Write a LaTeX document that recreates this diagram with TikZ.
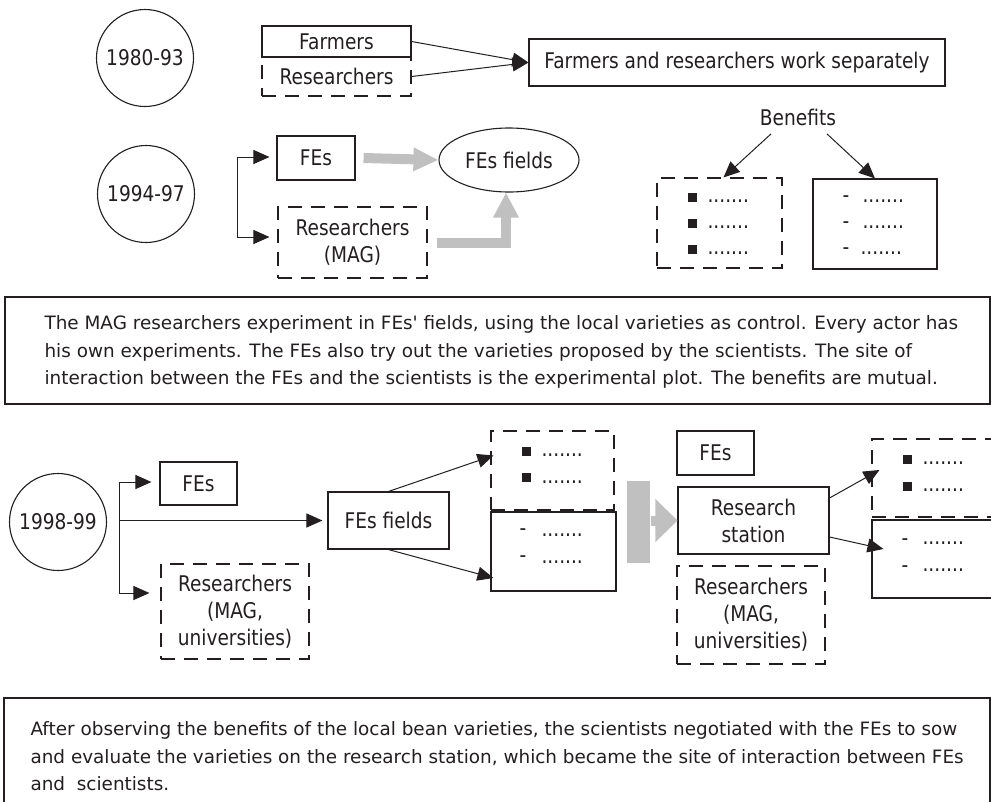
\documentclass[tikz,border=0pt]{standalone}
\usepackage{fontspec}
\setmainfont{DejaVu Sans}
\newfontfamily\labf[FakeStretch=0.86]{DejaVu Sans}
\usetikzlibrary{arrows.meta,shapes.geometric}
\definecolor{garrow}{RGB}{192,192,192}
\definecolor{ink}{RGB}{35,31,32}
\begin{document}
\begin{tikzpicture}[x=1pt,y=-1pt, line width=1.1pt,
  every node/.style={inner sep=0pt, text=ink},
  sz/.style 2 args={minimum width=#1pt, minimum height=#2pt},
  lab/.style={font=\labf\fontsize{21.6}{27}\selectfont, align=center},
  sbox/.style={draw=ink, rectangle, lab},
  dbox/.style={draw=ink, rectangle, lab, dash pattern=on 14pt off 9pt},
  yr/.style={draw=ink, circle, minimum size=97pt, lab},
  arr/.style={draw=ink, line width=1pt, -{Triangle[length=16pt,width=14pt]}},
  garr/.style={draw=garrow, line width=10pt, line join=miter},
  para/.style={font=\fontsize{18.4}{27.5}\selectfont, anchor=base west},
  dots/.style={font=\labf\fontsize{21.6}{27}\selectfont, anchor=base west},
  sq/.style={fill=ink, minimum size=9pt},
  hy/.style={font=\labf\fontsize{21.6}{27}\selectfont, anchor=base}
]
\clip (0,0) rectangle (991,801);
% ---------- row 1
\node[yr] (c1) at (145,58) {1980-93};
\node[dbox, sz={149}{39}] (r1) at (336.5,76.5) {Researchers};
\node[sbox, sz={149}{31}] (f1) at (336.5,41.5) {Farmers};
\node[sbox, sz={416}{47}] (sep) at (737,62.5) {Farmers and researchers work separately};
\draw[arr] (f1.east) -- (sep.west);
\draw[arr] (r1.east) -- (sep.west);
% ---------- row 2
\node[yr] (c2) at (146,194) {1994-97};
\node[sbox, sz={78}{44}] (fe2) at (316,158) {FEs};
\node[dbox, sz={149}{71}] (r2) at (352.5,242.5) {Researchers\\(MAG)};
\node[draw=ink, ellipse, lab, minimum width=140pt, minimum height=64pt] (fl2) at (509,160) {FEs fields};
\coordinate (b2t) at (237,157);
\coordinate (b2b) at (237,237);
\draw[draw=ink, line width=1pt] (b2t) -- (b2b);
\draw[arr, shorten >=7pt] (b2t) -- (b2t -| fe2.west);
\draw[arr, shorten >=8pt] (b2b) -- (b2b -| r2.west);
\draw[garr, -{Triangle[length=25pt,width=22pt]}] ([xshift=8pt]fe2.east) -- (fl2.west);
\draw[garr, -{Triangle[length=25pt,width=24pt]}] ([xshift=9pt]r2.east) -| ([xshift=-3pt]fl2.south);
\node[lab] (ben) at (798,117) {Benefits};
\node[dbox, sz={125}{90}] (bx1) at (719.5,223) {};
\node[sbox, sz={124}{90}] (bx2) at (875,224) {};
\draw[arr] ([xshift=-27pt,yshift=-8pt]ben.south) -- ([xshift=4pt]bx1.north);
\draw[arr] ([xshift=29pt,yshift=-8pt]ben.south) -- (bx2.north);
\node[sq] (s11) at (692.5,197.5) {};
\node[sq] (s12) at (692.5,223) {};
\node[sq] (s13) at (692.5,249.5) {};
\node[dots] (d11) at (707,202) {.......};
\node[dots] (d12) at (707,228) {.......};
\node[dots] (d13) at (707,254) {.......};
\node[hy] (h11) at (846,202) {-};
\node[hy] (h12) at (846,228) {-};
\node[hy] (h13) at (846,254) {-};
\node[dots] (d14) at (862,202) {.......};
\node[dots] (d15) at (862,228) {.......};
\node[dots] (d16) at (860,254) {.......};
% ---------- paragraph 1
\node[draw=ink, sz={985}{107}] (p1box) at (497.5,350.5) {};
\node[para] (p1a) at (44,329.5) {The MAG researchers experiment in FEs\textquotesingle{} fields, using the local varieties as control. Every actor has};
\node[para] (p1b) at (44,357) {his own experiments. The FEs also try out the varieties proposed by the scientists. The site of};
\node[para] (p1c) at (44,384.5) {interaction between the FEs and the scientists is the experimental plot. The benefits are mutual.};
% ---------- row 3
\node[yr] (c3) at (58,522) {1998-99};
\node[sbox, sz={77}{43}] (fe3) at (198.5,483.5) {FEs};
\node[sbox, sz={121}{57}] (fl3) at (388.5,520.5) {FEs fields};
\node[dbox, sz={148}{95}] (r3) at (235,611.5) {Researchers\\(MAG,\\universities)};
\coordinate (b3t) at (119,482);
\coordinate (b3m) at (119,520.5);
\coordinate (b3b) at (119,593);
\draw[draw=ink, line width=1pt] (b3t) -- (b3b);
\draw[arr, shorten >=8pt] (b3t) -- (b3t -| fe3.west);
\draw[arr, shorten >=5pt] (b3m) -- (fl3.west);
\draw[arr, shorten >=11pt] (b3b) -- (b3b -| r3.west);
\node[dbox, sz={123}{79}] (ub1) at (552.5,470.5) {};
\node[sbox, sz={125}{79}] (lb1) at (553.5,551.5) {};
\draw[arr] (fl3.north) -- ([xshift=3pt,yshift=15pt]ub1.west);
\draw[arr] (fl3.south) -- ([xshift=3pt,yshift=-26.5pt]lb1.west);
\node[sq] (s21) at (526.5,451) {};
\node[sq] (s22) at (526.5,477.5) {};
\node[dots] (d21) at (541,456) {.......};
\node[dots] (d22) at (541,483) {.......};
\node[hy] (h21) at (523,535) {-};
\node[hy] (h22) at (523,562) {-};
\node[dots] (d23) at (541,536) {.......};
\node[dots] (d24) at (541,563) {.......};
\node[fill=garrow, sz={23}{82}] (bar) at (638.5,522) {};
\node[sbox, sz={77}{44}] (fe4) at (715.5,453) {FEs};
\node[sbox, sz={151}{67}] (rs) at (753.5,520.5) {Research\\station};
\node[dbox, sz={148}{98}] (r4) at (751,615) {Researchers\\(MAG,\\universities)};
\draw[garr, -{Triangle[length=22pt,width=42pt]}] (bar.east |- rs.west) -- (rs.west);
\node[dbox, sz={128}{78}] (ub2) at (936,478) {};
\node[sbox, sz={128}{78}] (lb2) at (936,559) {};
\draw[arr] ([yshift=22.5pt]rs.east) -- ([xshift=8pt,yshift=8pt]ub2.west);
\draw[arr] ([yshift=-16.5pt]rs.east) -- ([xshift=12pt,yshift=10pt]lb2.west);
\node[sq] (s31) at (907.5,459.5) {};
\node[sq] (s32) at (907.5,486.5) {};
\node[dots] (d31) at (922,464) {.......};
\node[dots] (d32) at (922,491) {.......};
\node[hy] (h31) at (905,545) {-};
\node[hy] (h32) at (905,572) {-};
\node[dots] (d33) at (922,544) {.......};
\node[dots] (d34) at (922,571) {.......};
% ---------- paragraph 2
\node[draw=ink, sz={986}{130}] (p2box) at (497,763) {};
\node[para] (p2a) at (30,735) {After observing the benefits of the local bean varieties, the scientists negotiated with the FEs to sow};
\node[para] (p2b) at (30,763) {and evaluate the varieties on the research station, which became the site of interaction between FEs};
\node[para] (p2c) at (30,790) {and~ scientists.};
\end{tikzpicture}
\end{document}
